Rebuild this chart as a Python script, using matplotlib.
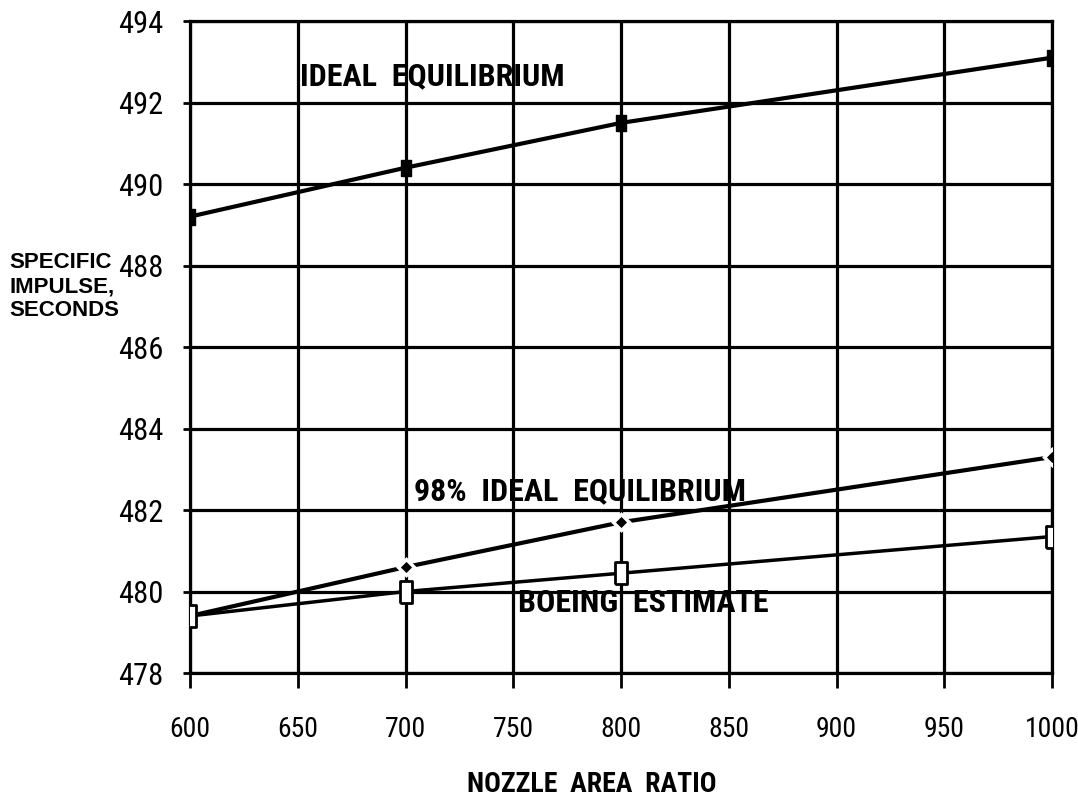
import matplotlib.pyplot as plt
from matplotlib import font_manager as fm

area_ratio = [600, 700, 800, 1000]
ideal_eq = [489.2, 490.4, 491.5, 493.1]
ideal_98 = [479.4, 480.6, 481.7, 483.3]
boeing = [479.4, 480.0, 480.45, 481.35]

x_ticks = [600, 650, 700, 750, 800, 850, 900, 950, 1000]
y_ticks = [478, 480, 482, 484, 486, 488, 490, 492, 494]

# pick a narrow face if one is installed
names = {f.name for f in fm.fontManager.ttflist}
narrow, stretch = None, "normal"
for cand in ["Liberation Sans Narrow", "Roboto Condensed", "DejaVu Sans Condensed",
             "Open Sans Condensed", "Noto Sans Condensed"]:
    if cand in names:
        narrow = cand
        break
if narrow is None:
    if any(f.name == "DejaVu Sans" and f.stretch == "condensed" for f in fm.fontManager.ttflist):
        narrow, stretch = "DejaVu Sans", "condensed"
    else:
        narrow = "Roboto"
NARROW = [narrow, "DejaVu Sans"]
WIDE = ["Liberation Sans", "DejaVu Sans"]

fig = plt.figure(figsize=(10.78, 8.02), dpi=100)
ax = fig.add_axes([0.1763, 0.1608, 0.7996, 0.813])

tall = [(-0.55, -1), (0.55, -1), (0.55, 1), (-0.55, 1), (-0.55, -1)]
ax.plot(area_ratio, ideal_eq, color="black", lw=3, marker=tall, ms=12,
        mfc="black", mec="black", zorder=3)
ax.plot(area_ratio, ideal_98, color="black", lw=3, marker="D", ms=8,
        mfc="black", mec="white", mew=2.5, zorder=3)
ax.plot(area_ratio, boeing, color="black", lw=2.5, marker=tall, ms=16,
        mfc="white", mec="black", mew=2, zorder=4)

ax.set_xlim(600, 1000)
ax.set_ylim(478, 494)
ax.set_xticks(x_ticks)
ax.set_yticks(y_ticks)
ax.grid(True, color="black", lw=2.3)
ax.set_axisbelow(True)
for s in ax.spines.values():
    s.set_linewidth(2.3)
ax.tick_params(axis="x", length=11, width=2, labelsize=20, pad=20)
ax.tick_params(axis="y", length=5, width=2, labelsize=22, pad=14)
for lab in ax.get_xticklabels() + ax.get_yticklabels():
    lab.set_family(NARROW)
    lab.set_stretch(stretch)

lbl = dict(fontsize=23, fontweight="bold", family=NARROW, stretch=stretch,
           ha="left", va="center")
ax.text(651, 492.65, "IDEAL  EQUILIBRIUM", **lbl)
ax.text(704, 482.47, "98%  IDEAL  EQUILIBRIUM", **lbl)
ax.text(752, 479.72, "BOEING  ESTIMATE", **lbl)

fig.text(0.549, 0.0224, "NOZZLE  AREA  RATIO", fontsize=20, fontweight="bold",
         family=NARROW, stretch=stretch, ha="center", va="center")
fig.text(0.009, 0.686, "SPECIFIC\nIMPULSE,\nSECONDS", fontsize=16,
         fontweight="bold", family=WIDE, ha="left", va="top",
         linespacing=1.2)

fig.savefig("out.png", dpi=100)
